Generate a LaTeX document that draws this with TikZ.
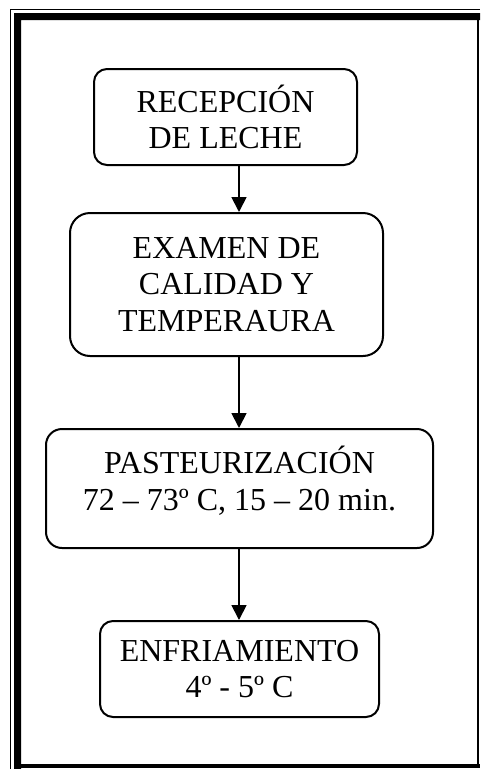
\documentclass[tikz,border=0pt]{standalone}
\usepackage{fontspec}
\setmainfont{Liberation Serif}
\usetikzlibrary{arrows.meta}

\tikzset{
    caja/.style={draw, line width=2pt, rounded corners=#1, align=center,
        inner sep=0pt, font=\fontsize{32}{36.8}\selectfont},
    caja/.default=13pt,
    flecha/.style={line width=1.8pt, -{Triangle[width=15pt,length=15pt]}},
}

\begin{document}
\begin{tikzpicture}[x=1pt, y=-1pt]
    \useasboundingbox (0,0) rectangle (480,769);

    % marco de la pagina
    \draw[line width=1.5pt] (10.5,769) |- (480,9.5);
    \fill (14,769) |- (480,13) -- (480,20) -| (21,769) -- cycle;
    \draw[line width=2pt] (478,20) -- (478,765);
    \fill (21,764) rectangle (480,768);

    \coordinate (eje) at (239,0);

    \node[caja, minimum width=263pt, minimum height=96pt] (recep) at (225.5,117)
        {RECEPCIÓN\\DE LECHE};
    \node[caja=20pt, minimum width=313pt, minimum height=143pt] (examen) at (226.5,284.5)
        {EXAMEN DE\\CALIDAD Y\\TEMPERAURA};
    % texto algo mas arriba que el centro
    \node[caja=16pt, minimum width=387pt, minimum height=119pt,
        text height=70pt, text depth=27pt] (pasteur) at (239.5,488.5)
        {PASTEURIZACIÓN\\72 – 73º C, 15 – 20 min.};
    \node[caja, minimum width=279pt, minimum height=96pt] (enfria) at (239.5,669)
        {ENFRIAMIENTO\\4º - 5º C};

    \draw[flecha] (recep.south -| eje) -- (examen.north -| eje);
    \draw[flecha] (examen.south -| eje) -- (pasteur.north -| eje);
    \draw[flecha] (pasteur.south -| eje) -- (enfria.north -| eje);
\end{tikzpicture}
\end{document}
